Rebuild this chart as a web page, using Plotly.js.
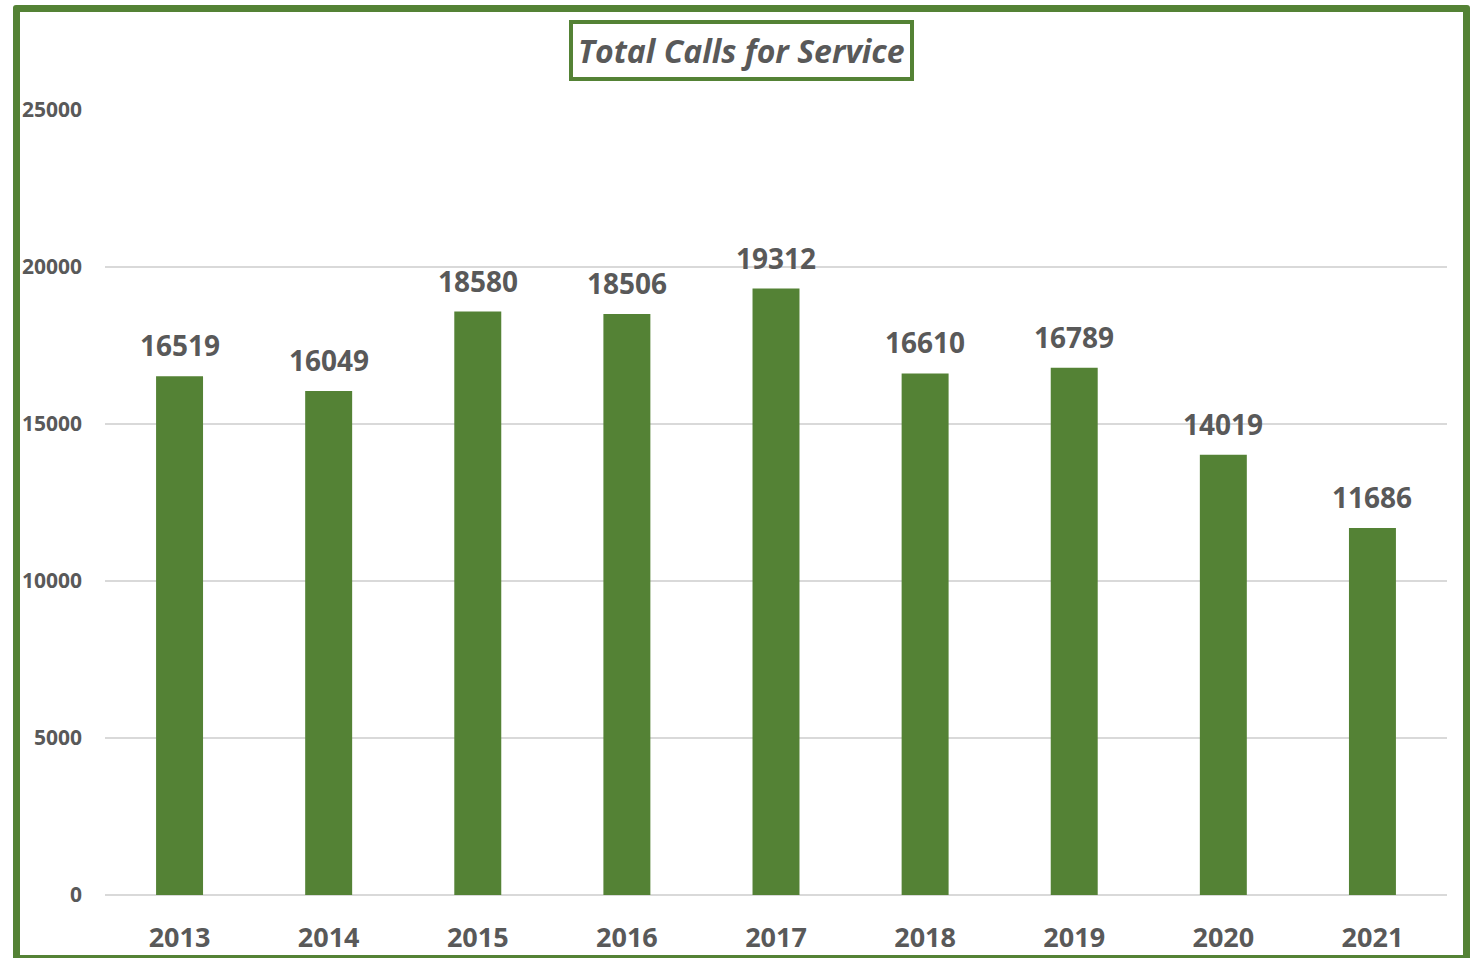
<!DOCTYPE html>
<html>
<head>
<meta charset="utf-8">
<script src="https://cdn.plot.ly/plotly-3.0.1.min.js"></script>
<style>
  html, body { margin: 0; padding: 0; background: #fff; }
  #wrap { position: relative; width: 1481px; height: 958px; overflow: hidden; }
  #chart { position: absolute; left: 0; top: 0; width: 1481px; height: 958px; }
  #frame { position: absolute; left: 13px; top: 5px; width: 1443px; height: 943px;
           border: 7px solid #548235; border-radius: 3px; pointer-events: none; }
</style>
</head>
<body>
<div id="wrap">
  <div id="chart"></div>
  <div id="frame"></div>
</div>
<script>
const years = ['2013','2014','2015','2016','2017','2018','2019','2020','2021'];
const calls = [16519, 16049, 18580, 18506, 19312, 16610, 16789, 14019, 11686];
const yTicks = [0, 5000, 10000, 15000, 20000, 25000];

const textColor = '#595959';
const fontFam = '"Open Sans", "Noto Sans", sans-serif';

const trace = {
  type: 'bar',
  x: years,
  y: calls,
  marker: { color: '#548235' },
  hoverinfo: 'x+y'
};

const labelAnns = years.map((yr, i) => ({
  x: i, y: calls[i], xref: 'x', yref: 'y',
  text: '<b>' + calls[i] + '</b>',
  showarrow: false, yanchor: 'bottom', yshift: 10,
  font: { family: fontFam, size: 28, color: textColor }
}));

const titleAnn = {
  xref: 'paper', yref: 'paper', x: 0.474, y: 1, xanchor: 'center', yanchor: 'bottom',
  yshift: 29,
  text: '<b><i>Total Calls for Service</i></b>',
  showarrow: false,
  font: { family: fontFam, size: 32, color: textColor },
  bordercolor: '#548235', borderwidth: 4, borderpad: 5, bgcolor: '#fff'
};

const layout = {
  width: 1481, height: 958,
  margin: { l: 105, r: 34, t: 110, b: 63 },
  paper_bgcolor: '#fff', plot_bgcolor: '#fff',
  bargap: 0.685,
  showlegend: false,
  xaxis: {
    type: 'category',
    range: [-0.5, years.length - 0.5],
    tickfont: { family: fontFam, size: 27, color: textColor, weight: 'bold' },
    ticks: '', ticklabelstandoff: 24,
    showgrid: false, showline: false, zeroline: false
  },
  yaxis: {
    range: [0, 25000],
    tickvals: yTicks,
    ticktext: yTicks.map(v => '<b>' + v + '</b>'),
    tickfont: { family: fontFam, size: 21, color: textColor },
    ticks: '', ticklabelstandoff: 22,
    showgrid: true, gridcolor: '#d9d9d9', gridwidth: 2,
    zeroline: true, zerolinecolor: '#d9d9d9', zerolinewidth: 2,
    showline: false
  },
  annotations: labelAnns.concat([titleAnn])
};

Plotly.newPlot('chart', [trace], layout, { displayModeBar: false, staticPlot: true });
</script>
</body>
</html>
